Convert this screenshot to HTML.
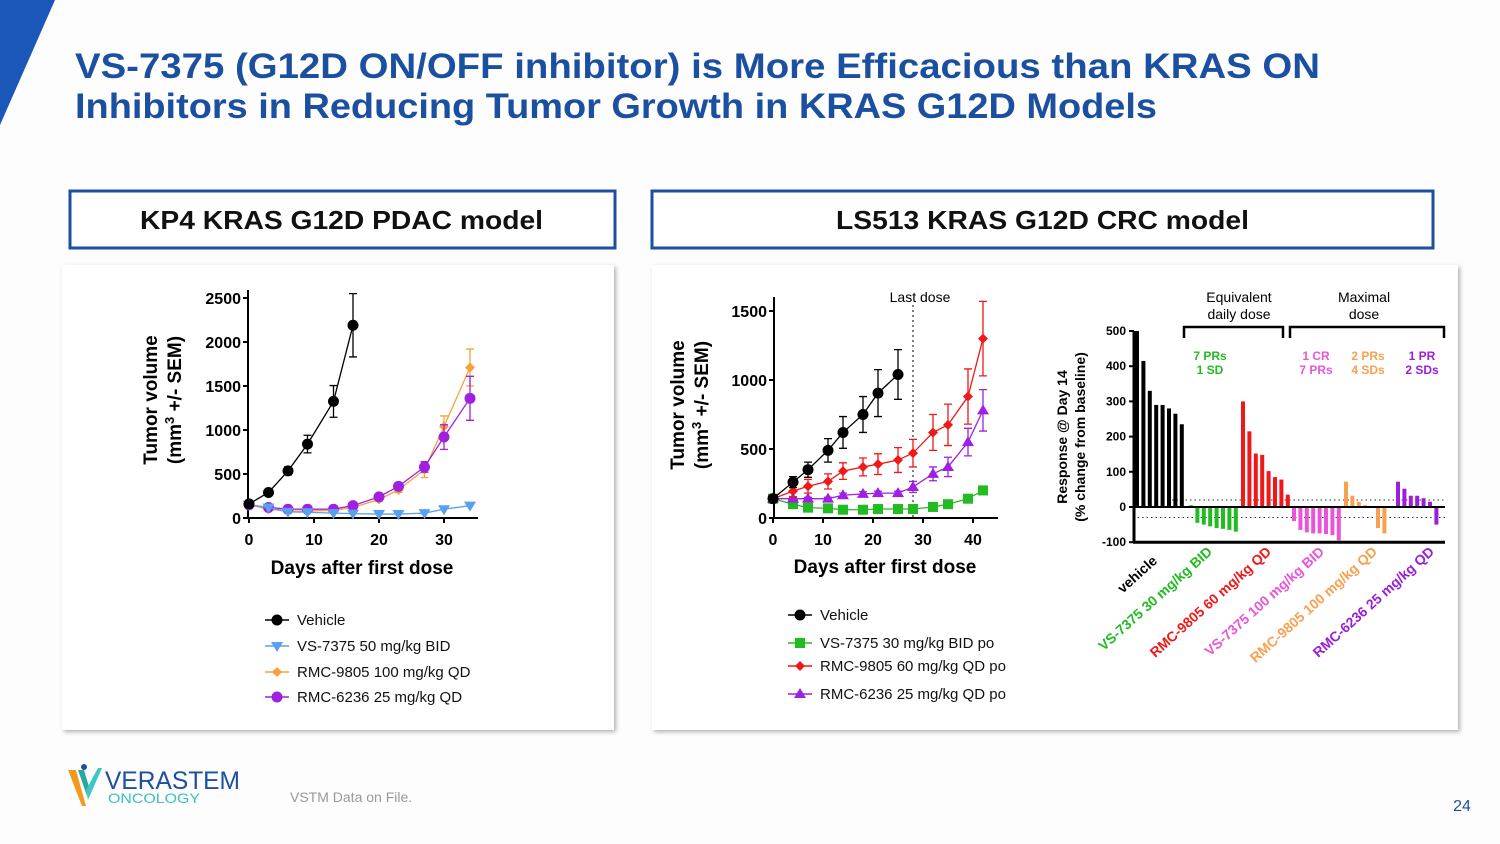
<!DOCTYPE html>
<html><head><meta charset="utf-8"><style>
body{margin:0;background:#fff;}
svg{display:block;font-family:"Liberation Sans",Arial,sans-serif;}
</style></head><body>
<svg id="s" width="1500" height="844" viewBox="0 0 1500 844" xmlns="http://www.w3.org/2000/svg">
<defs><filter id="sh" x="-5%" y="-5%" width="110%" height="110%"><feDropShadow dx="2" dy="2" stdDeviation="2" flood-color="#000" flood-opacity="0.3"/></filter></defs>
<rect width="1500" height="844" fill="#fdfdfd"/>
<polygon points="0,0 55,0 0,125" fill="#1957b8"/>
<text x="75" y="78" font-size="35" font-weight="bold" fill="#1b4f9f" textLength="1245" lengthAdjust="spacingAndGlyphs">VS-7375 (G12D ON/OFF inhibitor) is More Efficacious than KRAS ON</text>
<text x="75" y="118" font-size="35" font-weight="bold" fill="#1b4f9f" textLength="1082" lengthAdjust="spacingAndGlyphs">Inhibitors in Reducing Tumor Growth in KRAS G12D Models</text>
<rect x="70" y="191" width="545" height="57" fill="#fff" stroke="#1b4f9f" stroke-width="3"/>
<text x="140" y="229" font-size="26" font-weight="bold" fill="#111" textLength="403" lengthAdjust="spacingAndGlyphs">KP4 KRAS G12D PDAC model</text>
<rect x="652" y="191" width="781" height="57" fill="#fff" stroke="#1b4f9f" stroke-width="3"/>
<text x="836" y="229" font-size="26" font-weight="bold" fill="#111" textLength="413" lengthAdjust="spacingAndGlyphs">LS513 KRAS G12D CRC model</text>
<rect x="62" y="265" width="552" height="465" fill="#fff" filter="url(#sh)"/>
<rect x="652" y="265" width="806" height="465" fill="#fff" filter="url(#sh)"/>
<g id="c1"></g>
<g id="c2"></g>
<g id="c3"></g>
<g>
<polygon points="68,770 76,770 86,806 82,806" fill="#f39a1e"/>
<polygon points="78,770 84,770 90,790 87,796" fill="#2aa8a0"/>
<polygon points="86,790 98,768 102,768 88,800" fill="#3cc8c0"/>
<circle cx="84" cy="767" r="3" fill="#1b4f9f"/>
<text x="105" y="789" font-size="25" fill="#1b4f9f" textLength="135" lengthAdjust="spacingAndGlyphs">VERASTEM</text>
<text x="108" y="803" font-size="14" fill="#3cc0c0" textLength="92" lengthAdjust="spacingAndGlyphs">ONCOLOGY</text>
</g>
<text x="290" y="802" font-size="14" fill="#999">VSTM Data on File.</text>
<text x="1462" y="811" font-size="16" fill="#1b4f9f" text-anchor="middle">24</text>
</svg>
<script>
// ---- KP4 chart data ----
const kpVehDays=[0,3,6,9,13,16];
const kpVeh=[160,290,535,840,1325,2190];
const kpVehErr=[20,25,45,100,180,360];
const kpDays=[0,3,6,9,13,16,20,23,27,30,34];
const kpVS=[150,120,70,65,55,50,45,45,55,100,140];
const kpRMC9805=[150,100,75,80,85,120,210,320,550,1040,1710];
const kpRMC9805Err=[10,10,10,10,10,15,20,30,90,120,210];
const kpRMC6236=[150,120,100,100,100,140,240,360,580,920,1360];
const kpRMC6236Err=[10,10,10,10,10,15,20,30,60,140,250];
const kpYTicks=[0,500,1000,1500,2000,2500];
const kpXTicks=[0,10,20,30];
// ---- LS513 chart data ----
const lsVehDays=[0,4,7,11,14,18,21,25];
const lsVeh=[140,260,350,490,620,750,905,1040];
const lsVehErr=[15,40,55,85,115,130,170,180];
const lsDays=[0,4,7,11,14,18,21,25,28,32,35,39,42];
const lsRed=[140,195,230,265,340,370,390,420,470,620,675,880,1300];
const lsRedErr=[10,40,50,55,60,65,75,90,100,130,150,200,270];
const lsPurple=[140,140,140,140,165,175,180,180,225,320,370,550,780];
const lsPurpleErr=[10,10,10,10,15,15,15,15,40,50,70,100,150];
const lsGreen=[140,100,75,70,60,60,65,65,65,80,100,140,200];
const lsGreenErr=[10,10,10,10,10,10,10,10,10,15,15,20,30];
const lsYTicks=[0,500,1000,1500];
const lsXTicks=[0,10,20,30,40];
const lastDoseDay=28;
// ---- waterfall data ----
const wfGroups=["vehicle","VS-7375 30 mg/kg BID","RMC-9805 60 mg/kg QD","VS-7375 100 mg/kg BID","RMC-9805 100 mg/kg QD","RMC-6236 25 mg/kg QD"];
const wfVehicle=[500,415,330,290,290,280,265,235];
const wfVS30=[5,-45,-50,-55,-60,-62,-65,-70];
const wfRMC60=[300,215,152,148,102,85,78,35];
const wfVS100=[-40,-65,-72,-75,-75,-77,-80,-95];
const wfRMC100=[72,32,15,5,-3,-60,-75];
const wfRMC6236=[72,52,32,32,25,15,-50];
const wfYTicks=[-100,0,100,200,300,400,500];

const NS="http://www.w3.org/2000/svg";
function mk(p,tag,a,txt){const e=document.createElementNS(NS,tag);for(const k in a)e.setAttribute(k,a[k]);if(txt!==undefined)e.textContent=txt;p.appendChild(e);return e;}
function marker(g,shape,x,y,c){
  if(shape==="circle")return mk(g,"circle",{cx:x,cy:y,r:5.5,fill:c});
  if(shape==="tri-down")return mk(g,"polygon",{points:`${x-6},${y-4} ${x+6},${y-4} ${x},${y+6}`,fill:c});
  if(shape==="tri-up")return mk(g,"polygon",{points:`${x-6},${y+4} ${x+6},${y+4} ${x},${y-6}`,fill:c});
  if(shape==="diamond")return mk(g,"polygon",{points:`${x-5},${y} ${x},${y-5} ${x+5},${y} ${x},${y+5}`,fill:c});
  return mk(g,"rect",{x:x-5,y:y-5,width:10,height:10,fill:c});
}
function series(g,name,days,vals,errs,X,Y,c,shape){
  const sg=mk(g,"g",{});
  
  
  mk(sg,"polyline",{points:days.map((d,i)=>X(d)+","+Y(vals[i])).join(" "),fill:"none",stroke:c,"stroke-width":1.3});
  days.forEach((d,i)=>{
    if(errs){const x=X(d),y1=Y(vals[i]-errs[i]),y2=Y(vals[i]+errs[i]);
      mk(sg,"path",{d:`M${x},${y1}V${y2}M${x-4},${y1}h8M${x-4},${y2}h8`,stroke:c,"stroke-width":1.3,fill:"none"});}
    const m=marker(sg,shape,X(d),Y(vals[i]),c);
    
    
  });
}
function axes(g,X,Y,x0,x1,y0,y1,xt,yt){
  mk(g,"line",{x1:x0,y1:Y(0),x2:x1,y2:Y(0),stroke:"#000","stroke-width":2});
  mk(g,"line",{x1:x0,y1:y0,x2:x0,y2:y1,stroke:"#000","stroke-width":2});
  yt.forEach(v=>{mk(g,"line",{x1:x0-5,x2:x0,y1:Y(v),y2:Y(v),stroke:"#000","stroke-width":2});
    const t=mk(g,"text",{x:x0-7,y:Y(v)+6,"text-anchor":"end","font-size":16,"font-weight":"bold"},v);
    });
  xt.forEach(v=>{mk(g,"line",{x1:X(v),x2:X(v),y1:Y(0),y2:Y(0)+5,stroke:"#000","stroke-width":2});
    const t=mk(g,"text",{x:X(v),y:Y(0)+27,"text-anchor":"middle","font-size":16,"font-weight":"bold"},v);
    });
}
function ytitle(g,cx,cy){
  const t=mk(g,"text",{transform:`translate(${cx},${cy}) rotate(-90)`,"text-anchor":"middle","font-size":19,"font-weight":"bold"});
  
  mk(t,"tspan",{x:0,y:0},"Tumor volume");
  const s=mk(t,"tspan",{x:0,y:24},"(mm");mk(t,"tspan",{dy:-7,"font-size":13},"3");mk(t,"tspan",{dy:7}," +/- SEM)");
}
function legend(g,x,ys,items){
  items.forEach((it,i)=>{const lg=mk(g,"g",{});
    
    mk(lg,"line",{x1:x-12,x2:x+12,y1:ys[i],y2:ys[i],stroke:it[1],"stroke-width":1.5});
    marker(lg,it[2],x,ys[i],it[1]);
    mk(lg,"text",{x:x+20,y:ys[i]+5,"font-size":15,fill:"#111"},it[0]);});
}
// chart 1
(function(){const g=document.getElementById('c1');
 const X=d=>249+d*6.5,Y=v=>518-v*0.088;
 axes(g,X,Y,248,478,518,290,kpXTicks,kpYTicks);
 ytitle(g,157,400);
 const xt=mk(g,"text",{x:362,y:574,"text-anchor":"middle","font-size":19,"font-weight":"bold"},"Days after first dose");
 
 series(g,"rmc-9805-series",kpDays,kpRMC9805,kpRMC9805Err,X,Y,"#f7a03c","diamond");
 series(g,"rmc-6236-series",kpDays,kpRMC6236,kpRMC6236Err,X,Y,"#a020e0","circle");
 series(g,"vs-7375-series",kpDays,kpVS,null,X,Y,"#5aa0f0","tri-down");
 series(g,"vehicle-series",kpVehDays,kpVeh,kpVehErr,X,Y,"#000","circle");
 legend(g,277,[620,646,672,697],[["Vehicle","#000","circle"],["VS-7375 50 mg/kg BID","#5aa0f0","tri-down"],["RMC-9805 100 mg/kg QD","#f7a03c","diamond"],["RMC-6236 25 mg/kg QD","#a020e0","circle"]]);
})();
// chart 2
(function(){const g=document.getElementById('c2');
 const X=d=>773+d*5,Y=v=>518-v*0.138;
 axes(g,X,Y,774,998,518,297,lsXTicks,lsYTicks);
 ytitle(g,684,405);
 const xt=mk(g,"text",{x:885,y:573,"text-anchor":"middle","font-size":19,"font-weight":"bold"},"Days after first dose");
 
 const ld=mk(g,"line",{x1:X(lastDoseDay),x2:X(lastDoseDay),y1:305,y2:518,stroke:"#000","stroke-dasharray":"2,3"});
 
 const lt=mk(g,"text",{x:X(lastDoseDay)+7,y:302,"text-anchor":"middle","font-size":14},"Last dose");
 
 series(g,"vs-7375-series",lsDays,lsGreen,lsGreenErr,X,Y,"#22bb22","square");
 series(g,"rmc-6236-series",lsDays,lsPurple,lsPurpleErr,X,Y,"#a020e0","tri-up");
 series(g,"rmc-9805-series",lsDays,lsRed,lsRedErr,X,Y,"#f01818","diamond");
 series(g,"vehicle-series",lsVehDays,lsVeh,lsVehErr,X,Y,"#000","circle");
 legend(g,800,[615,643,666,694],[["Vehicle","#000","circle"],["VS-7375 30 mg/kg BID po","#22bb22","square"],["RMC-9805 60 mg/kg QD po","#f01818","diamond"],["RMC-6236 25 mg/kg QD po","#a020e0","tri-up"]]);
})();
// waterfall
(function(){const g=document.getElementById('c3');
 const Y=v=>507-v*0.352;
 const groups=[wfVehicle,wfVS30,wfRMC60,wfVS100,wfRMC100,wfRMC6236];
 const cols=["#000","#22bb22","#f01818","#e855d8","#f7a050","#9b1fd8"];
 const starts=[1135,1189,1241,1292,1344,1396];
 const pitch=6.4;
 mk(g,"line",{x1:1172,x2:1445,y1:Y(20),y2:Y(20),stroke:"#333","stroke-dasharray":"1.5,3"});
 mk(g,"line",{x1:1133,x2:1445,y1:Y(-30),y2:Y(-30),stroke:"#333","stroke-dasharray":"1.5,3"});
 groups.forEach((vals,gi)=>{vals.forEach((v,i)=>{const x=starts[gi]+i*pitch;
   const r=mk(g,"rect",{x:x,y:Math.min(Y(v),Y(0)),width:4,height:Math.abs(Y(v)-Y(0)),fill:cols[gi]});
   });});
 mk(g,"line",{x1:1133,x2:1445,y1:Y(0),y2:Y(0),stroke:"#000","stroke-width":2});
 mk(g,"line",{x1:1133,x2:1445,y1:Y(-100),y2:Y(-100),stroke:"#000","stroke-width":3});
 mk(g,"line",{x1:1134,x2:1134,y1:Y(500),y2:Y(-100),stroke:"#000","stroke-width":3});
 wfYTicks.forEach(v=>{mk(g,"line",{x1:1129,x2:1134,y1:Y(v),y2:Y(v),stroke:"#000","stroke-width":2});
   const t=mk(g,"text",{x:1126,y:Y(v)+4,"text-anchor":"end","font-size":12,"font-weight":"bold"},v);
   });
 const yt=mk(g,"text",{transform:"translate(1067,437) rotate(-90)","text-anchor":"middle","font-size":14,"font-weight":"bold"});
 
 mk(yt,"tspan",{x:0,y:0},"Response @ Day 14");mk(yt,"tspan",{x:0,y:18},"(% change from baseline)");
 const ends=[[1158,562],[1213,553],[1272,553],[1325,553],[1378,553],[1435,553]];
 wfGroups.forEach((n,i)=>{const t=mk(g,"text",{transform:`translate(${ends[i][0]},${ends[i][1]}) rotate(-42)`,"text-anchor":"end","font-size":14,"font-weight":"bold",fill:cols[i]},n);
   });
 mk(g,"path",{d:"M1184,338V327H1283V338M1290,338V327H1444V338",stroke:"#000","stroke-width":2.5,fill:"none"});
 [["Equivalent",1239,302],["daily dose",1239,319],["Maximal",1364,302],["dose",1364,319]].forEach(a=>mk(g,"text",{x:a[1],y:a[2],"text-anchor":"middle","font-size":14},a[0]));
 [["7 PRs",1210,360,0],["1 SD",1210,374,0],["1 CR",1316,360,3],["7 PRs",1316,374,3],["2 PRs",1368,360,4],["4 SDs",1368,374,4],["1 PR",1422,360,5],["2 SDs",1422,374,5]].forEach(a=>{
   const t=mk(g,"text",{x:a[1],y:a[2],"text-anchor":"middle","font-size":12,"font-weight":"bold",fill:a[3]===0?"#22bb22":cols[a[3]]},a[0]);
   });
})();
</script>
</body></html>
